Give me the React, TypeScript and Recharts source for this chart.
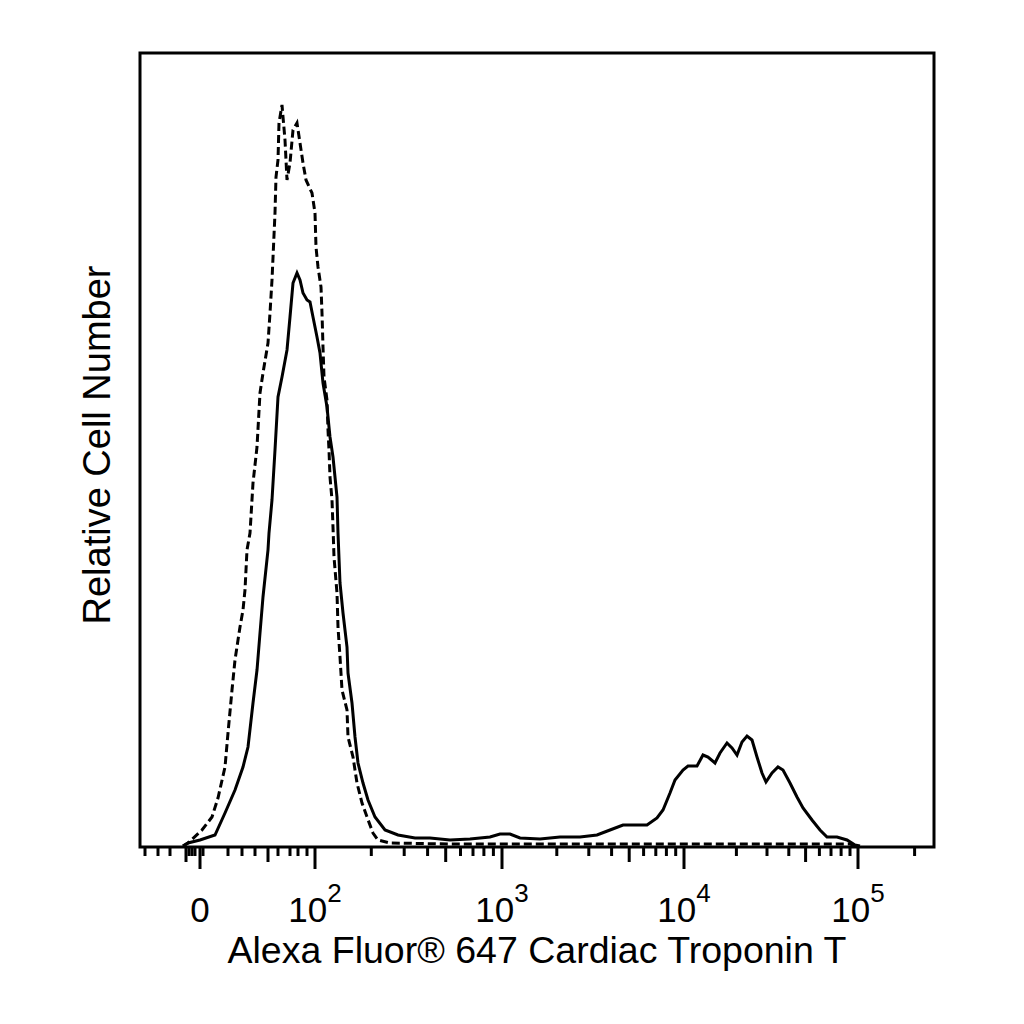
import React from "react";
import { LineChart, Line, XAxis, YAxis, ReferenceArea } from "recharts";

// Histogram channel (display position on the biexponential axis, 0..794) and relative counts
const STAINED_CHANNEL = [43, 48, 60, 75, 85, 95, 103, 108, 113, 117, 120, 123, 128, 129, 132, 135, 138, 142, 147, 150, 153, 157, 160, 163, 167, 170, 173, 177, 180, 183, 187, 190, 193, 197, 198, 200, 203, 207, 208, 212, 215, 218, 223, 228, 235, 245, 258, 275, 290, 310, 330, 350, 360, 370, 380, 400, 420, 440, 457, 470, 483, 507, 517, 523, 530, 535, 543, 548, 557, 563, 568, 575, 580, 587, 592, 597, 602, 607, 612, 617, 622, 626, 632, 638, 643, 650, 657, 663, 672, 680, 687, 697, 707, 715, 720];
const STAINED_COUNT = [1, 4, 7, 12, 34, 57, 80, 100, 144, 177, 214, 250, 297, 314, 347, 397, 450, 470, 497, 530, 564, 574, 567, 554, 547, 545, 530, 510, 494, 464, 440, 410, 390, 350, 314, 264, 234, 200, 174, 144, 110, 84, 64, 47, 30, 17, 12, 9, 9, 7, 8, 10, 13, 13, 9, 8, 10, 10, 12, 17, 22, 22, 29, 37, 54, 67, 77, 81, 81, 92, 90, 84, 94, 104, 99, 92, 105, 111, 107, 90, 74, 65, 74, 80, 77, 64, 50, 39, 27, 17, 10, 10, 7, 2, 1];

const ISOTYPE_CHANNEL = [43, 48, 62, 72, 78, 85, 88, 92, 95, 98, 100, 103, 105, 107, 110, 113, 117, 120, 123, 128, 130, 132, 135, 136, 138, 139, 142, 145, 147, 150, 153, 157, 160, 163, 166, 172, 175, 176, 178, 181, 182, 183, 184, 187, 188, 189, 190, 192, 193, 194, 197, 198, 200, 202, 207, 208, 213, 217, 222, 227, 233, 238, 250, 310, 410, 510, 610, 710, 716];
const ISOTYPE_COUNT = [1, 4, 17, 30, 49, 80, 114, 157, 187, 207, 220, 237, 257, 297, 314, 364, 400, 454, 474, 504, 534, 567, 634, 670, 687, 724, 742, 707, 667, 684, 717, 724, 704, 684, 667, 654, 634, 600, 580, 560, 534, 500, 470, 447, 417, 397, 370, 347, 320, 290, 254, 220, 190, 157, 137, 110, 90, 64, 44, 30, 14, 7, 4, 3, 3, 3, 3, 3, 1];

// Axis calibration: channel of 0 and of each decade 10^2 .. 10^6
const ZERO_CHANNEL = 60;
const DECADE_EXPONENTS = [2, 3, 4, 5, 6];
const DECADE_CHANNELS = [175, 362, 544, 718, 906];
// minor ticks in the linear region around zero (channels)
const NEAR_ZERO_MINOR = [5, 18, 30, 49, 52, 55, 63, 88, 102, 115, 138, 150, 158, 167];
const NEAR_ZERO_MID = [46, 128];

const X_MAX = 794;
const Y_MAX = 794;

const FONT = "'Liberation Sans', Arial, Helvetica, sans-serif";

const stainedData = STAINED_CHANNEL.map((ch, i) => ({ ch, count: STAINED_COUNT[i] }));
const isotypeData = ISOTYPE_CHANNEL.map((ch, i) => ({ ch, count: ISOTYPE_COUNT[i] }));

type TickInfo = { kind: "major" | "mid" | "minor"; base?: string; exp?: string };
const tickInfo = new Map<number, TickInfo>();
tickInfo.set(ZERO_CHANNEL, { kind: "major", base: "0" });
NEAR_ZERO_MINOR.forEach((c) => tickInfo.set(c, { kind: "minor" }));
NEAR_ZERO_MID.forEach((c) => tickInfo.set(c, { kind: "mid" }));
for (let i = 0; i < DECADE_EXPONENTS.length - 1; i++) {
  const c0 = DECADE_CHANNELS[i];
  const c1 = DECADE_CHANNELS[i + 1];
  tickInfo.set(c0, { kind: "major", base: "10", exp: String(DECADE_EXPONENTS[i]) });
  for (let m = 2; m <= 9; m++) {
    const c = Math.round((c0 + Math.log10(m) * (c1 - c0)) * 10) / 10;
    if (c <= X_MAX - 10) tickInfo.set(c, { kind: m === 5 ? "mid" : "minor" });
  }
}
const tickValues = Array.from(tickInfo.keys()).sort((a, b) => a - b);

const TICK_LEN = { major: 22, mid: 15, minor: 9 };

const renderTick = (props: any) => {
  const { x, y, payload } = props;
  const info = tickInfo.get(payload.value);
  if (!info) return <g />;
  const len = TICK_LEN[info.kind];
  return (
    <g>
      <line x1={x} x2={x} y1={y} y2={y + len} stroke="#000" strokeWidth={3} />
      {info.base !== undefined && (
        <text
          x={x}
          y={y + 75}
          textAnchor="middle"
          fontFamily={FONT}
          fontSize={35}
          fill="#000"
        >
          {info.base}
          {info.exp && (
            <tspan dy={-20} fontSize={26}>
              {info.exp}
            </tspan>
          )}
        </text>
      )}
    </g>
  );
};

const renderXLabel = (props: any) => {
  const vb = props.viewBox || { x: 132, y: 839, width: 794, height: 120 };
  return (
    <text
      x={vb.x + vb.width / 2}
      y={vb.y + 116}
      textAnchor="middle"
      fontFamily={FONT}
      fontSize={37.5}
      fill="#000"
    >
      Alexa Fluor® 647 Cardiac Troponin T
    </text>
  );
};

const renderYLabel = (props: any) => {
  const vb = props.viewBox || { x: 32, y: 45, width: 100, height: 794 };
  const cx = vb.x + vb.width - 30;
  const cy = vb.y + vb.height / 2 - 5;
  return (
    <text
      x={cx}
      y={cy}
      transform={`rotate(-90, ${cx}, ${cy})`}
      textAnchor="middle"
      fontFamily={FONT}
      fontSize={38}
      fill="#000"
    >
      Relative Cell Number
    </text>
  );
};

export default function App() {
  return (
    <div style={{ width: 1016, height: 1000, background: "#fff" }}>
      <LineChart
        width={1016}
        height={1000}
        margin={{ top: 45, left: 32, right: 90, bottom: 41 }}
      >
        <XAxis
          type="number"
          dataKey="ch"
          domain={[0, X_MAX]}
          ticks={tickValues}
          interval={0}
          allowDataOverflow
          axisLine={false}
          tickLine={false}
          tickSize={0}
          tickMargin={0}
          height={120}
          tick={renderTick}
          label={renderXLabel}
        />
        <YAxis
          type="number"
          domain={[0, Y_MAX]}
          width={100}
          axisLine={false}
          tickLine={false}
          tick={false}
          allowDataOverflow
          label={renderYLabel}
        />
        <Line
          data={isotypeData}
          dataKey="count"
          type="linear"
          stroke="#000"
          strokeWidth={3}
          strokeDasharray="8 4"
          dot={false}
          isAnimationActive={false}
        />
        <Line
          data={stainedData}
          dataKey="count"
          type="linear"
          stroke="#000"
          strokeWidth={3}
          dot={false}
          isAnimationActive={false}
        />
        <ReferenceArea
          x1={0}
          x2={X_MAX}
          y1={0}
          y2={Y_MAX}
          fill="none"
          fillOpacity={0}
          stroke="#000"
          strokeWidth={3}
          ifOverflow="visible"
        />
      </LineChart>
    </div>
  );
}
